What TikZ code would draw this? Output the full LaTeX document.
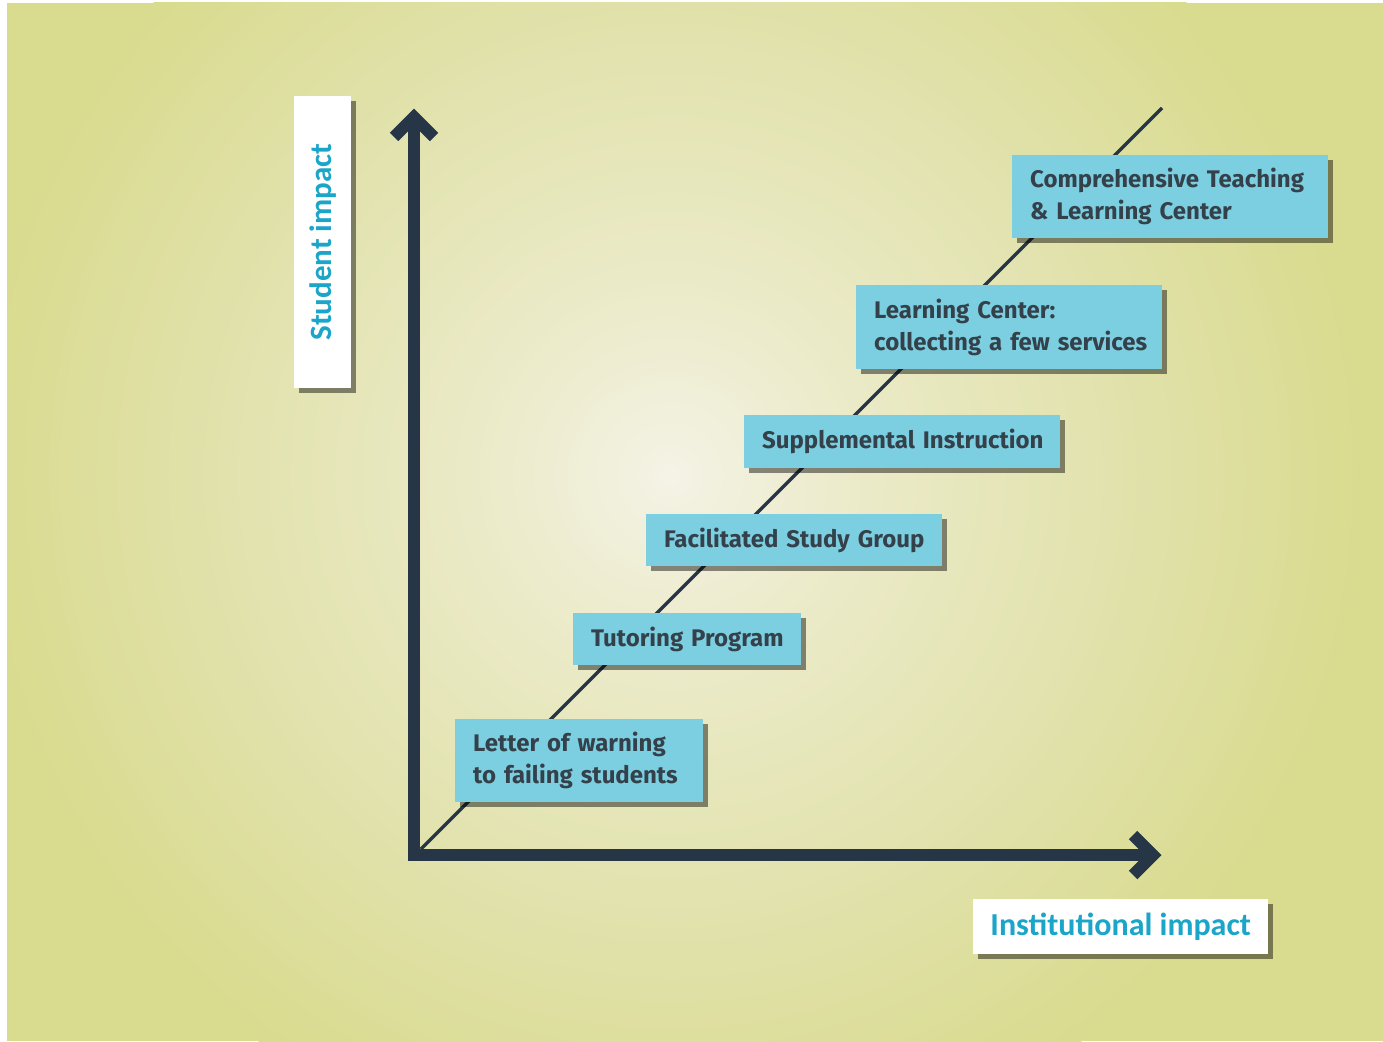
\documentclass[tikz,border=0pt]{standalone}
\usepackage{fontspec}
\setmainfont{Fira Sans}
\newfontfamily\labelfont{Carlito}
\usetikzlibrary{shadows}
\definecolor{bgedge}{HTML}{D9DB8E}
\definecolor{bgmid}{HTML}{E1E2AC}
\definecolor{bginner}{HTML}{ECEBCB}
\definecolor{bgcenter}{HTML}{F4F3E6}
\definecolor{boxfill}{HTML}{7CCFE0}
\definecolor{boxtext}{HTML}{34404A}
\definecolor{axiscol}{HTML}{263646}
\definecolor{labelcol}{HTML}{1BA5C9}
\pgfdeclareradialshading{bgshade}{\pgfpoint{0bp}{0bp}}{color(0bp)=(bgcenter); color(6bp)=(bginner); color(16bp)=(bgmid); color(25bp)=(bgedge); color(50bp)=(bgedge)}
\tikzset{
  stepbox/.style={draw=none, fill=boxfill, text=boxtext, anchor=north west,
    inner xsep=18pt, inner ysep=0pt, align=left,
    font=\bfseries\fontsize{24}{32}\selectfont,
    drop shadow={shadow xshift=5pt, shadow yshift=-5pt, fill=black, opacity=0.45}},
  labelbox/.style={draw=none, fill=white, text=labelcol, inner sep=0pt,
    font=\labelfont\bfseries\fontsize{32}{32}\selectfont,
    drop shadow={shadow xshift=5pt, shadow yshift=-5pt, fill=black, opacity=0.45}},
  axisline/.style={draw=axiscol, line width=12pt, miter limit=10},
  diagline/.style={draw=axiscol, line width=3.5pt}
}
\begin{document}
\begin{tikzpicture}[x=1pt, y=-1pt]
\useasboundingbox (0,0) rectangle (1383,1041);
\fill[white] (0,0) rectangle (1383,1041);
% background
\fill[bgedge] (7,3) rectangle (1383,1041);
\begin{scope}
  \clip (7,3) rectangle (1383,1041);
  \shade[shading=bgshade] (670,475) circle (700);
\end{scope}
% coordinates
\coordinate (O) at (414,855);
\coordinate (Ytop) at (414,117);
\coordinate (Xend) at (1153,855);
\coordinate (D0) at (421,849);
\coordinate (D1) at (1162,108);
% diagonal
\draw[diagline] (D0) -- (D1);
% axes
\draw[axisline] (Ytop) -- (O) -- (Xend);
\draw[axisline] ([shift={(-20,20)}]Ytop) -- (Ytop) -- ([shift={(20,20)}]Ytop);
\draw[axisline] ([shift={(-20,-20)}]Xend) -- (Xend) -- ([shift={(-20,20)}]Xend);
% boxes
\node[stepbox, minimum width=248pt, minimum height=83pt, text width=212pt] (letter) at (455,719) {\mbox{Letter of warning}\\\mbox{to failing students}};
\node[stepbox, minimum width=228pt, minimum height=52pt, text width=192pt] (tutor) at (573,613) {\mbox{Tutoring Program}};
\node[stepbox, minimum width=296pt, minimum height=52pt, text width=260pt] (fsg) at (646,514) {\mbox{Facilitated Study Group}};
\node[stepbox, minimum width=316pt, minimum height=53pt, text width=280pt] (si) at (744,415) {\mbox{Supplemental Instruction}};
\node[stepbox, minimum width=306pt, minimum height=84pt, text width=270pt] (lc) at (856,285) {\mbox{Learning Center:}\\\mbox{collecting a few services}};
\node[stepbox, minimum width=316pt, minimum height=83pt, text width=280pt] (ctlc) at (1012,155) {\mbox{Comprehensive Teaching}\\\mbox{\& Learning Center}};
% axis labels
\node[labelbox, minimum width=57pt, minimum height=292pt, anchor=north west] (ylab) at (294,96) {};
\node[text=labelcol, font=\labelfont\bfseries\fontsize{31}{31}\selectfont, rotate=90] at (ylab.center) {Student impact};
\node[labelbox, minimum width=295pt, minimum height=55pt, anchor=north west] (xlab) at (973,899) {Institutional impact};
\end{tikzpicture}
\end{document}
